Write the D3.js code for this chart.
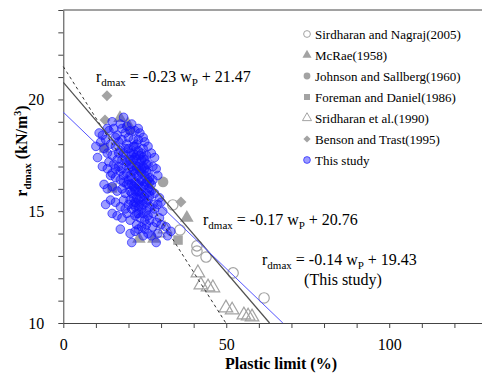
<!DOCTYPE html>
<html>
<head>
<meta charset="utf-8">
<script src="https://cdn.jsdelivr.net/npm/d3@7/dist/d3.min.js"></script>
<style>
  body { margin: 0; background: #fff; }
  svg, svg text { font-family: "Liberation Serif", "DejaVu Serif", serif !important; }
</style>
</head>
<body>
<div id="chart"></div>
<script>
// ---- data (wP %, rdmax kN/m3) ----
var nagraj2005 = [[33.6,15.28],[35.8,14.16],[41.0,13.45],[41.0,13.22],[43.8,12.95],[52.1,12.24],[61.6,11.12]];
var mcrae1958 = [[17.4,19.17],[19.8,18.90],[23.2,13.76],[27.8,13.76],[37.9,14.70]];
var johnson1960 = [[30.6,16.31],[20.5,18.64]];
var foreman1986 = [[15.0,16.04],[35.2,13.71],[12.5,17.83]];
var sridharan1990 = [[29.1,14.03],[31.2,14.21],[41.3,12.24],[42.2,11.70],[44.4,11.61],[45.9,11.57],
  [49.9,10.67],[51.8,10.58],[55.4,10.36],[56.7,10.31],[57.9,10.27]];
var benson1995 = [[13.4,20.16],[12.8,19.08],[36.1,15.41]];
var thisStudy = [
  [18.5,19.2],[17.5,18.9],[19.5,18.8],[21.0,18.9],[14.0,18.6],[15.5,18.7],[19.0,18.5],[22.0,18.6],[16.5,18.4],[20.0,18.3],[23.5,18.5],[24.5,18.3],
  [11.5,18.1],[13.0,18.2],[14.5,18.0],[17.0,18.1],[18.0,18.2],[19.5,18.0],[21.5,18.2],[22.5,18.0],[25.0,18.1],[26.0,17.9],[16.0,17.9],[12.5,17.8],
  [10.5,17.4],[13.5,17.6],[15.0,17.5],[17.5,17.7],[18.5,17.6],[20.0,17.8],[21.0,17.5],[23.0,17.7],[24.0,17.6],[25.5,17.5],[27.0,17.6],[28.0,17.4],[19.0,17.3],[22.0,17.4],[14.0,17.2],[16.5,17.3],
  [12.0,17.0],[13.5,16.9],[15.5,17.1],[17.0,17.0],[18.0,16.9],[20.5,17.1],[22.5,17.0],[23.5,17.2],[24.5,17.0],[26.0,17.1],[27.5,17.0],[28.5,16.9],[21.5,16.8],[19.5,16.7],[25.0,16.6],
  [14.5,16.6],[16.0,16.5],[17.5,16.4],[18.5,16.6],[20.0,16.4],[21.0,16.5],[22.0,16.3],[23.0,16.6],[24.0,16.4],[25.5,16.3],[26.5,16.5],[27.5,16.4],[29.0,16.6],[22.5,16.2],[24.5,16.1],[26.0,16.0],
  [12.5,16.2],[13.5,16.0],[15.0,16.1],[16.5,15.9],[18.0,16.0],[19.0,15.8],[20.5,15.9],[21.5,16.1],[23.0,15.9],[24.0,15.8],[25.0,15.7],[27.0,15.9],[28.0,15.8],[29.5,15.6],[23.5,15.6],[26.0,15.5],
  [13.0,15.3],[14.5,15.5],[16.0,15.4],[17.5,15.2],[18.5,15.5],[20.0,15.3],[21.0,15.1],[22.0,15.4],[23.0,15.2],[24.5,15.3],[25.5,15.0],[26.5,15.2],[28.0,15.1],[29.0,15.3],[30.5,15.0],[27.5,14.9],
  [15.0,14.9],[16.5,14.8],[18.0,14.7],[19.5,14.9],[20.5,14.6],[22.0,14.8],[23.5,14.7],[25.0,14.6],[26.0,14.8],[28.5,14.5],[30.0,14.4],[31.5,14.3],
  [17.5,14.2],[20.5,14.0],[22.0,14.1],[25.0,14.2],[27.0,13.9],[29.0,14.0],[32.0,13.9],[21.0,13.6],[28.5,13.6],[33.0,14.1],
  [20.5,17.3],[21.5,17.6],[22.5,16.9],[23.5,16.8],[24.0,17.3],[22.0,17.9],[23.0,18.2],[21.0,16.2],[22.5,15.6],[24.5,15.5],
  [25.5,16.8],[23.5,16.3],[21.5,15.6],[20.0,16.9],[19.0,17.8],[24.0,16.0],[22.0,16.7],[25.0,17.3],[23.0,15.5],[26.5,16.3],
  [11.0,18.5],[12.0,18.4],[13.5,18.7],[10.0,17.9],[15.0,19.0],[16.0,18.3],
  [21.0,17.0],[22.0,16.0],[23.0,17.0],[24.0,16.7],[25.0,16.2],[26.0,16.7],[22.5,17.5],[24.5,17.8],[23.5,15.9],[25.5,15.8],
  [21.5,17.3],[20.5,16.6],[22.0,15.2],[24.0,15.1],[26.5,15.7],[23.0,14.9],[25.5,14.4],[24.0,14.3],[22.5,14.4],[26.0,14.0],
  [19.5,17.2],[20.5,17.6],[21.5,17.9],[22.5,17.3],[23.5,17.5],[24.5,17.4],[25.5,17.1],[20.0,16.2],[21.0,15.8],[22.0,15.9],
  [23.0,16.2],[24.0,16.9],[25.0,16.9],[26.0,16.4],[26.5,15.9],[27.0,16.2],[19.5,16.2],[18.5,16.3],[17.5,16.8],[18.0,17.3],
  [23.5,15.3],[24.5,14.9],[25.5,15.4],[21.5,15.3],[22.5,14.9],[20.5,15.5],[19.0,15.1],[26.5,14.6],[27.5,15.3],[23.0,18.7],
  [20.5,18.6],[18.0,18.7],[17.0,17.6],[16.0,16.9],[15.0,16.7],[27.5,14.3],[29.5,14.7],[24.5,13.9],[23.0,14.2],[30.0,15.4]
];

// fitted lines: slope, intercept
var fitSlopes = [-0.23, -0.17, -0.14];
var fitIntercepts = [21.47, 20.76, 19.43];

var legendNames = ["Sirdharan and Nagraj(2005)", "McRae(1958)", "Johnson and Sallberg(1960)",
  "Foreman and Daniel(1986)", "Sridharan et al.(1990)", "Benson and Trast(1995)", "This study"];

var xTicks = d3.range(0, 131, 10);
var yTicks = d3.range(10, 25, 1);

var W = 482, H = 376;
var FONT = "Liberation Serif, DejaVu Serif, serif";
var svg = d3.select("#chart").append("svg").attr("width", W).attr("height", H)
  .attr("font-family", FONT);

var x = d3.scaleLinear().domain([0, 130]).range([63.3, 487]);
var y = d3.scaleLinear().domain([10, 24]).range([323, 10]);

var grey = "#a3a3a3";

// axes
svg.append("g").attr("transform", "translate(0," + y(10) + ")")
  .call(d3.axisBottom(x).tickValues(xTicks).tickSize(5).tickSizeOuter(0)
    .tickFormat(function(d){ return d % 50 == 0 ? d : ""; }))
  .call(function(g){
    g.attr("font-family", FONT);
    g.select(".domain").attr("stroke", "#444");
    g.selectAll(".tick line").attr("stroke", "#444");
    g.selectAll("text").attr("font-size", 16).attr("fill", "#000").attr("dy", "1.2em");
  });
svg.append("g").attr("transform", "translate(" + x(0) + ",0)")
  .call(d3.axisLeft(y).tickValues(yTicks).tickSize(5).tickSizeOuter(0)
    .tickFormat(function(d){ return d % 5 == 0 ? d : ""; }))
  .call(function(g){
    g.attr("font-family", FONT);
    g.select(".domain").attr("stroke", "#444");
    g.selectAll(".tick line").attr("stroke", "#444");
    g.selectAll("text").attr("font-size", 16).attr("fill", "#000").attr("x", -19);
  });
// top frame line
svg.append("line").attr("x1", x(0)).attr("x2", W).attr("y1", y(24)).attr("y2", y(24))
  .attr("stroke", "#444");

// axis titles
svg.append("text").attr("x", 281).attr("y", 369).attr("text-anchor", "middle")
  .attr("font-size", 16).attr("font-weight", "bold").text("Plastic limit (%)");
var yt = svg.append("text").attr("transform", "translate(27,151) rotate(-90)")
  .attr("text-anchor", "middle").attr("font-size", 16).attr("font-weight", "bold");
yt.append("tspan").text("r");
yt.append("tspan").attr("font-size", 11).attr("dy", 4).text("dmax");
yt.append("tspan").attr("dy", -4).text(" (kN/m");
yt.append("tspan").attr("font-size", 10).attr("dy", -6).text("3");
yt.append("tspan").attr("dy", 6).text(")");

// marker shapes (diamond = square turned 45 deg)
var sym = {
  circle: d3.symbol().type(d3.symbolCircle),
  triangle: d3.symbol().type(d3.symbolTriangle),
  square: d3.symbol().type(d3.symbolSquare),
  diamond: d3.symbol().type(d3.symbolSquare)
};
var series = [
  { data: nagraj2005, shape: "circle", size: 85, fill: "none", stroke: grey },
  { data: mcrae1958, shape: "triangle", size: 80, fill: grey, stroke: "none" },
  { data: johnson1960, shape: "circle", size: 90, fill: grey, stroke: "none" },
  { data: foreman1986, shape: "square", size: 90, fill: grey, stroke: "none" },
  { data: sridharan1990, shape: "triangle", size: 80, fill: "none", stroke: grey },
  { data: benson1995, shape: "diamond", size: 60, fill: grey, stroke: "none" }
];
series.forEach(function(s){
  var rot = s.shape == "diamond" ? " rotate(45)" : "";
  svg.append("g").selectAll("path").data(s.data).enter().append("path")
    .attr("transform", function(d){ return "translate(" + x(d[0]) + "," + y(d[1]) + ")" + rot; })
    .attr("d", sym[s.shape].size(s.size)())
    .attr("fill", s.fill).attr("stroke", s.stroke).attr("stroke-width", 1.2);
});

svg.append("g").selectAll("circle").data(thisStudy).enter().append("circle")
  .attr("cx", function(d){ return x(d[0]); })
  .attr("cy", function(d){ return y(d[1]); })
  .attr("r", 4.3)
  .attr("fill", "rgba(20,20,255,0.42)")
  .attr("stroke", "rgba(20,20,255,0.65)").attr("stroke-width", 1);

// regression lines
var lineStyles = [
  { stroke: "#333", width: 1, dash: "3,3" },
  { stroke: "#505050", width: 1.2, dash: null },
  { stroke: "#5555ff", width: 1, dash: null }
];
fitSlopes.forEach(function(m, i){
  var b = fitIntercepts[i];
  var xEnd = (10 - b) / m;
  svg.append("line")
    .attr("x1", x(0)).attr("y1", y(b))
    .attr("x2", x(xEnd)).attr("y2", y(10))
    .attr("stroke", lineStyles[i].stroke).attr("stroke-width", lineStyles[i].width)
    .attr("stroke-dasharray", lineStyles[i].dash);
});

// equation labels
function equation(px, py, i) {
  var t = svg.append("text").attr("x", px).attr("y", py).attr("font-size", 16);
  t.append("tspan").text("r");
  t.append("tspan").attr("font-size", 11).attr("dy", 4).text("dmax");
  t.append("tspan").attr("dy", -4).text(" = " + fitSlopes[i].toFixed(2) + " w");
  t.append("tspan").attr("font-size", 11).attr("dy", 4).text("P");
  t.append("tspan").attr("dy", -4).text(" + " + fitIntercepts[i].toFixed(2));
  return t;
}
equation(96, 82, 0);
equation(203, 225, 1);
equation(262, 265, 2);
svg.append("text").attr("x", 343).attr("y", 285).attr("text-anchor", "middle")
  .attr("font-size", 16).text("(This study)");

// legend
var legShapes = ["circle", "triangle", "circle", "square", "triangle", "diamond", "circle"];
var legFills = ["none", grey, grey, grey, "none", grey, "rgba(20,20,255,0.42)"];
var legStrokes = [grey, "none", "none", "none", grey, "none", "rgba(20,20,255,0.65)"];
var leg = svg.append("g");
legendNames.forEach(function(name, i){
  var ly = 33.5 + i * 21;
  var rot = legShapes[i] == "diamond" ? " rotate(45)" : "";
  leg.append("path").attr("transform", "translate(307," + (ly + 0.5) + ")" + rot)
    .attr("d", sym[legShapes[i]].size(legShapes[i] == "diamond" ? 26 : 36)())
    .attr("fill", legFills[i]).attr("stroke", legStrokes[i]).attr("stroke-width", 1);
  leg.append("text").attr("x", 315).attr("y", ly + 5).attr("font-size", 13).text(name);
});
</script>
</body>
</html>
